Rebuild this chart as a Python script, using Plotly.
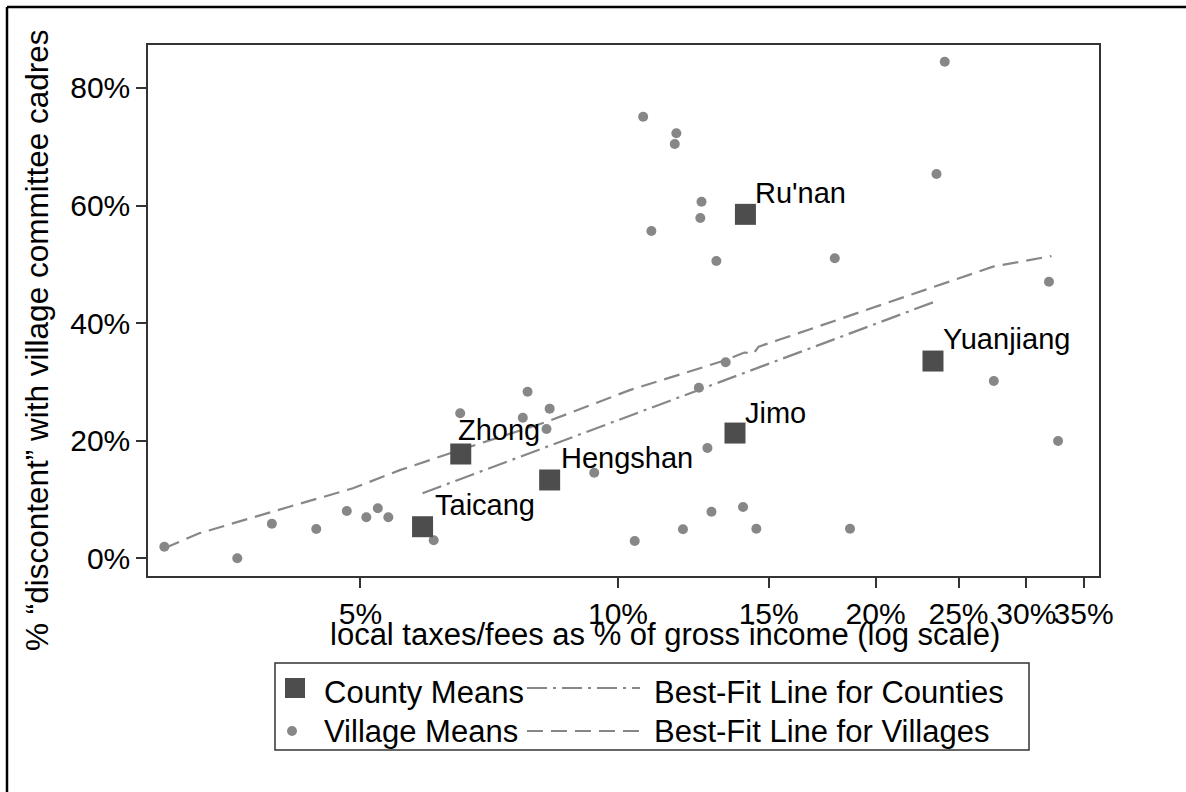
import numpy as np
import plotly.graph_objects as go

# ---------------- data ----------------
village_x = [2.95, 3.59, 3.94, 4.44, 4.82, 5.08, 5.24, 5.39, 6.09, 6.54, 7.84, 7.74, 8.32,
             8.25, 9.38, 10.46, 11.91, 12.72, 12.86, 14.0, 14.51, 12.43, 13.36, 10.70, 11.70,
             11.65, 12.52, 12.48, 10.94, 13.03, 17.92, 24.09, 23.56, 31.89, 27.49, 32.68, 18.67]
village_y = [1.97, 0.0, 5.88, 4.98, 8.04, 6.97, 8.5, 6.97, 3.06, 24.66, 28.33, 23.9, 25.45,
             22.0, 14.56, 2.94, 4.93, 18.76, 7.93, 8.72, 5.04, 29.0, 33.33, 75.1, 72.28,
             70.46, 60.65, 57.87, 55.66, 50.56, 51.02, 84.46, 65.36, 47.04, 30.15, 19.95, 5.04]

county_names = ["Taicang", "Zhong", "Hengshan", "Jimo", "Ru'nan", "Yuanjiang"]
county_x = [5.91, 6.55, 8.32, 13.7, 14.09, 23.34]
county_y = [5.37, 17.74, 13.32, 21.3, 58.5, 33.55]

# smoothed best-fit curve for villages
village_fit_x = [2.95, 3.24, 4.13, 4.90, 5.56, 6.53, 8.25, 10.32, 13.36, 14.05, 14.40, 14.60, 15.45, 23.34, 27.43, 32.1]
village_fit_y = [1.7, 4.25, 8.78, 11.9, 15.0, 18.4, 23.2, 28.6, 33.7, 35.0, 34.8, 36.0, 37.2, 46.2, 49.6, 51.4]

x_tick_vals = [5, 10, 15, 20, 25, 30, 35]
x_tick_text = ["5%", "10%", "15%", "20%", "25%", "30%", "35%"]
y_tick_vals = [0, 20, 40, 60, 80]
y_tick_text = ["0%", "20%", "40%", "60%", "80%"]

legend_labels = ["County Means", "Best-Fit Line for Counties", "Village Means", "Best-Fit Line for Villages"]

# ---------------- styles / layout ----------------
W, H = 1186, 792
ML, MR, MT, MB = 148, 87, 45, 216
PW, PH = W - ML - MR, H - MT - MB
FONT = "Liberation Sans, Arial, sans-serif"
SQ_COLOR = "#4d4d4d"
PT_COLOR = "#878787"
LINE_COLOR = "#878787"
DASH = "16px,8px"
DASHDOT = "20px,6px,3px,6px"
label_dx = [10, -5, 9, 8, 8, 8]
label_dy = [22, 24, 22, 20, 21, 22]


def pxx(p):
    return (p - ML) / PW


def pxy(p):
    return (H - MB - p) / PH


# OLS fit of county means on log(x)
lx = np.log10(np.array(county_x))
b, a = np.polyfit(lx, np.array(county_y), 1)
fit_lx = np.array([lx.min(), lx.max()])
county_fit_x = (10 ** fit_lx).tolist()
county_fit_y = (a + b * fit_lx).tolist()

fig = go.Figure()
fig.add_trace(go.Scatter(x=village_x, y=village_y, mode="markers",
                         marker=dict(symbol="circle", size=10, color=PT_COLOR, line=dict(width=0)),
                         name=legend_labels[2], showlegend=False))
fig.add_trace(go.Scatter(x=village_fit_x, y=village_fit_y, mode="lines",
                         line=dict(color=LINE_COLOR, width=2.2, dash=DASH),
                         name=legend_labels[3], showlegend=False))
fig.add_trace(go.Scatter(x=county_fit_x, y=county_fit_y, mode="lines",
                         line=dict(color=LINE_COLOR, width=2.2, dash=DASHDOT),
                         name=legend_labels[1], showlegend=False))
fig.add_trace(go.Scatter(x=county_x, y=county_y, mode="markers",
                         marker=dict(symbol="square", size=21, color=SQ_COLOR, line=dict(width=0)),
                         name=legend_labels[0], showlegend=False))

annotations = []
for name, x, y, dx, dy in zip(county_names, county_x, county_y, label_dx, label_dy):
    annotations.append(dict(x=np.log10(x), y=y, xref="x", yref="y", text=name, showarrow=False,
                            xanchor="left", yanchor="middle", xshift=dx, yshift=dy,
                            font=dict(family=FONT, size=29, color="black")))

# axis titles
annotations.append(dict(x=pxx(665), y=pxy(634), xref="paper", yref="paper",
                        text="local taxes/fees as % of gross income (log scale)", showarrow=False,
                        xanchor="center", yanchor="middle", font=dict(family=FONT, size=31, color="black")))
annotations.append(dict(x=pxx(37), y=pxy(340), xref="paper", yref="paper",
                        text="% \u201cdiscontent\u201d with village committee cadres", showarrow=False,
                        textangle=-90, xanchor="center", yanchor="middle",
                        font=dict(family=FONT, size=31.5, color="black")))

# legend (drawn by hand to mimic the original key layout)
row1, row2 = 692, 731
for text, lx0, ly in [(legend_labels[0], 322, row1), (legend_labels[1], 652, row1),
                      (legend_labels[2], 322, row2), (legend_labels[3], 652, row2)]:
    annotations.append(dict(x=pxx(lx0), y=pxy(ly), xref="paper", yref="paper", text=text,
                            showarrow=False, xanchor="left", yanchor="middle",
                            font=dict(family=FONT, size=31, color="black")))

shapes = [
    # outer frame (top and left edges visible)
    dict(type="line", xref="paper", yref="paper", x0=pxx(7), y0=pxy(7), x1=pxx(W + 5), y1=pxy(7),
         line=dict(color="black", width=2.5)),
    dict(type="line", xref="paper", yref="paper", x0=pxx(7), y0=pxy(7), x1=pxx(7), y1=pxy(H + 5),
         line=dict(color="black", width=2.5)),
    # legend box
    dict(type="rect", xref="paper", yref="paper", x0=pxx(275), y0=pxy(663), x1=pxx(1029), y1=pxy(750),
         line=dict(color="#333333", width=1.5), fillcolor="rgba(0,0,0,0)"),
    # legend keys
    dict(type="rect", xref="paper", yref="paper", x0=pxx(285), y0=pxy(678), x1=pxx(305), y1=pxy(698),
         line=dict(width=0), fillcolor=SQ_COLOR),
    dict(type="line", xref="paper", yref="paper", x0=pxx(527), y0=pxy(row1 - 4), x1=pxx(640), y1=pxy(row1 - 4),
         line=dict(color=LINE_COLOR, width=2.2, dash=DASHDOT)),
    dict(type="circle", xref="paper", yref="paper", x0=pxx(287), y0=pxy(row2 - 5), x1=pxx(297), y1=pxy(row2 + 5),
         line=dict(width=0), fillcolor=PT_COLOR),
    dict(type="line", xref="paper", yref="paper", x0=pxx(527), y0=pxy(row2), x1=pxx(640), y1=pxy(row2),
         line=dict(color=LINE_COLOR, width=2.2, dash=DASH)),
]

fig.update_layout(
    width=W, height=H, autosize=False,
    margin=dict(l=ML, r=MR, t=MT, b=MB, pad=0),
    paper_bgcolor="white", plot_bgcolor="white",
    showlegend=False,
    font=dict(family=FONT, size=30, color="black"),
    annotations=annotations, shapes=shapes,
    xaxis=dict(type="log", range=[0.45074, 1.56211], tickmode="array",
               tickvals=x_tick_vals, ticktext=x_tick_text, tickangle=0,
               ticks="outside", ticklen=10, tickwidth=1.5, tickcolor="#333333",
               showgrid=False, zeroline=False, showline=True, linecolor="#333333",
               linewidth=1.5, mirror=True, tickfont=dict(family=FONT, size=30, color="black")),
    yaxis=dict(range=[-3.01, 87.30], tickmode="array", tickvals=y_tick_vals, ticktext=y_tick_text,
               ticks="outside", ticklen=10, tickwidth=1.5, tickcolor="#333333",
               showgrid=False, zeroline=False, showline=True, linecolor="#333333",
               linewidth=1.5, mirror=True, tickfont=dict(family=FONT, size=30, color="black")),
)

fig.write_html("out.html")
